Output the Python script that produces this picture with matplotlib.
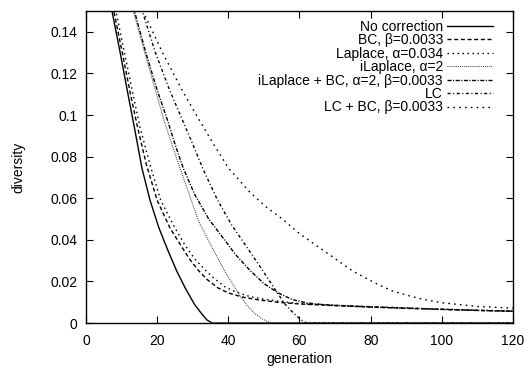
import numpy as np
import matplotlib
matplotlib.use('Agg')
import matplotlib.pyplot as plt

# Diversity vs generation for the different correction schemes

nocorr_gen = [6.5, 7.3, 9.6, 11.8, 13.6, 15.7, 18, 20.5, 23, 25.5, 28, 30.5, 32.5, 34, 35.5, 40, 120]
nocorr_div = [0.158, 0.15, 0.13, 0.11, 0.094, 0.0746, 0.059, 0.0457, 0.035, 0.025, 0.0165, 0.009,
              0.0045, 0.0015, 0.0, 0.0, 0.0]

bc_gen = [7.0, 7.8, 10.2, 12.5, 14.5, 17, 20, 23.6, 26.4, 29, 31.5, 34, 37, 40, 44, 48, 54, 60,
          70, 80, 90, 100, 110, 120]
bc_div = [0.158, 0.15, 0.13, 0.11, 0.094, 0.076, 0.059, 0.0457, 0.038, 0.031, 0.0255, 0.021, 0.017,
          0.0145, 0.0125, 0.0113, 0.0100, 0.0092, 0.0084, 0.0077, 0.0071, 0.0066, 0.0061, 0.0057]

lap_gen = [7.6, 8.4, 10.8, 13.2, 15.2, 18, 21, 25, 28, 30.5, 33.5, 36, 39, 42, 46, 50, 55, 60,
           70, 80, 90, 100, 110, 120]
lap_div = [0.158, 0.15, 0.13, 0.11, 0.094, 0.076, 0.059, 0.0457, 0.037, 0.031, 0.0255, 0.0215,
           0.0175, 0.015, 0.0128, 0.0115, 0.0103, 0.0094, 0.0086, 0.0079, 0.0073, 0.0067, 0.0062,
           0.0058]

ilap_gen = [12.5, 13.3, 16.5, 19.5, 22, 24.5, 26.5, 29, 31.5, 34, 36.5, 39, 41.5, 43.5, 45.5,
            47.5, 49.5, 51.5, 52.5, 120]
ilap_div = [0.158, 0.15, 0.13, 0.112, 0.097, 0.084, 0.074, 0.062, 0.0496, 0.041, 0.033, 0.025,
            0.018, 0.0125, 0.008, 0.0045, 0.002, 0.0004, 0.0, 0.0]

ilapbc_gen = [12.8, 13.6, 16.8, 20, 23, 25, 27.3, 30.5, 34.5, 38.5, 42, 46, 50, 54, 58, 62, 66,
              70, 80, 90, 100, 110, 120]
ilapbc_div = [0.158, 0.15, 0.13, 0.112, 0.097, 0.086, 0.0746, 0.062, 0.05, 0.041, 0.033, 0.0255,
              0.019, 0.0145, 0.0113, 0.0097, 0.009, 0.0085, 0.0078, 0.0072, 0.0066, 0.0061, 0.0057]

lc_gen = [15.0, 15.8, 19.5, 23.5, 26.5, 30, 33, 37, 41, 45, 49, 53, 56, 58.5, 60.5, 62, 120]
lc_div = [0.158, 0.15, 0.13, 0.112, 0.1, 0.086, 0.0736, 0.059, 0.047, 0.037, 0.027, 0.0165, 0.009,
          0.0045, 0.0015, 0.0, 0.0]

lcbc_gen = [15.2, 16, 21.5, 27, 31, 35.5, 40, 46, 50.5, 55.5, 60, 65, 70, 75, 81, 86, 90, 95,
            100, 110, 120]
lcbc_div = [0.158, 0.15, 0.13, 0.112, 0.1, 0.087, 0.0746, 0.063, 0.056, 0.0496, 0.043, 0.037,
            0.031, 0.025, 0.0195, 0.0155, 0.0135, 0.0113, 0.0098, 0.008, 0.0072]

x_ticks = [0, 20, 40, 60, 80, 100, 120]
y_ticks = [0, 0.02, 0.04, 0.06, 0.08, 0.1, 0.12, 0.14]
y_ticklabels = ['0', '0.02', '0.04', '0.06', '0.08', '0.1', '0.12', '0.14']

plt.rcParams['font.family'] = ['Liberation Sans', 'DejaVu Sans']
plt.rcParams['lines.scale_dashes'] = False

fig = plt.figure(figsize=(5.31, 3.68), dpi=100)
ax = fig.add_axes([0.162, 0.122, 0.804, 0.848])

lw = 1.0
ax.plot(nocorr_gen, nocorr_div, color='k', lw=lw, linestyle='-', label='No correction')
ax.plot(bc_gen, bc_div, color='k', lw=lw, linestyle=(0, (2.9, 1.9)), label='BC, β=0.0033')
ax.plot(lap_gen, lap_div, color='k', lw=lw, linestyle=(0, (1.1, 2.5)), label='Laplace, α=0.034')
ax.plot(ilap_gen, ilap_div, color='0.25', lw=0.8, linestyle=(0, (0.7, 0.8)), label='iLaplace, α=2')
ax.plot(ilapbc_gen, ilapbc_div, color='k', lw=lw, linestyle=(0, (2.9, 1.1, 0.8, 1.1)),
        label='iLaplace + BC, α=2, β=0.0033')
ax.plot(lc_gen, lc_div, color='k', lw=lw, linestyle=(0, (2.2, 1.8, 0.8, 1.8)), label='LC')
ax.plot(lcbc_gen, lcbc_div, color='k', lw=lw, linestyle=(0, (1.2, 3.0)), label='LC + BC, β=0.0033')

ax.set_xlim(0, 120)
ax.set_ylim(0, 0.15)
ax.set_xticks(x_ticks)
ax.set_yticks(y_ticks)
ax.set_yticklabels(y_ticklabels)

# gnuplot look: ticks inside on all four sides
ax.tick_params(direction='in', top=True, right=True, length=5, width=0.8,
               labelsize=10, pad=6)
ax.tick_params(axis='x', pad=8)
for s in ax.spines.values():
    s.set_linewidth(1.0)

ax.set_xlabel('generation', fontsize=10, labelpad=3)
ax.set_ylabel('diversity', fontsize=10, labelpad=18)

leg = ax.legend(loc='upper right', bbox_to_anchor=(0.953, 0.972), markerfirst=False,
                frameon=False, fontsize=10, handlelength=3.3, handletextpad=0.3,
                labelspacing=-0.04, borderpad=0, borderaxespad=0)

plt.savefig('out.png', dpi=100)
